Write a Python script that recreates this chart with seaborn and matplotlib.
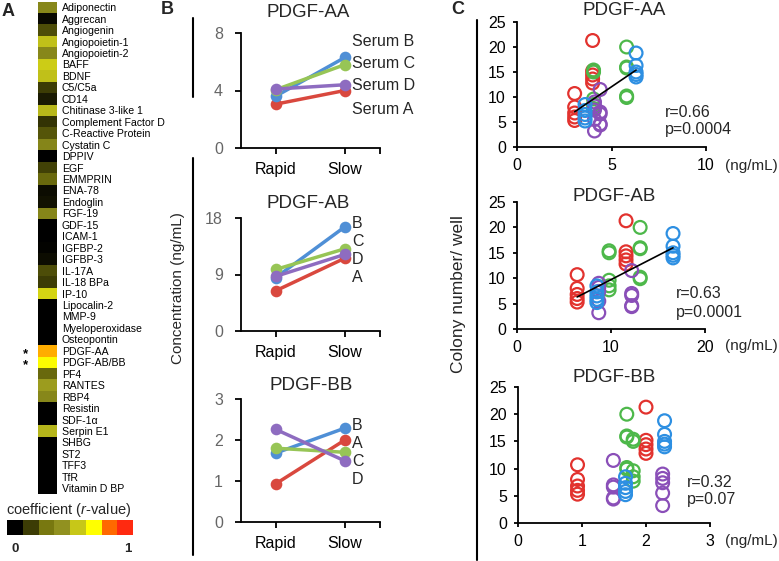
import numpy as np
import pandas as pd
import matplotlib
matplotlib.use("Agg")
import matplotlib.pyplot as plt
import seaborn as sns
from matplotlib.colors import LinearSegmentedColormap
from matplotlib.lines import Line2D

sns.set_theme(style="white")
plt.rcParams["font.family"] = ["Liberation Sans", "DejaVu Sans"]
plt.rcParams["mathtext.fontset"] = "custom"
plt.rcParams["mathtext.rm"] = "Liberation Sans"
plt.rcParams["mathtext.it"] = "Liberation Sans:italic"
plt.rcParams["axes.edgecolor"] = "black"

# ---------------- data ----------------
analytes = ["Adiponectin", "Aggrecan", "Angiogenin", "Angiopoietin-1", "Angiopoietin-2",
            "BAFF", "BDNF", "C5/C5a", "CD14", "Chitinase 3-like 1", "Complement Factor D",
            "C-Reactive Protein", "Cystatin C", "DPPIV", "EGF", "EMMPRIN", "ENA-78",
            "Endoglin", "FGF-19", "GDF-15", "ICAM-1", "IGFBP-2", "IGFBP-3", "IL-17A",
            "IL-18 BPa", "IP-10", "Lipocalin-2", "MMP-9", "Myeloperoxidase", "Osteopontin",
            "PDGF-AA", "PDGF-AB/BB", "PF4", "RANTES", "RBP4", "Resistin", "SDF-1α",
            "Serpin E1", "SHBG", "ST2", "TFF3", "TfR", "Vitamin D BP"]
r_values = [0.38, 0.02, 0.18, 0.55, 0.38, 0.58, 0.55, 0.14, 0.06, 0.53, 0.12,
            0.20, 0.37, 0.00, 0.15, 0.25, 0.03, 0.04, 0.37, 0.00, 0.00, 0.01,
            0.03, 0.18, 0.14, 0.60, 0.00, 0.00, 0.00, 0.00, 0.79, 0.70, 0.25,
            0.46, 0.38, 0.00, 0.00, 0.52, 0.00, 0.00, 0.00, 0.00, 0.00]
starred = ["PDGF-AA", "PDGF-AB/BB"]
cbar_levels = [0.0, 0.14, 0.29, 0.43, 0.57, 0.71, 0.86, 1.0]
cbar_colors = ["#000000", "#3d3d05", "#787810", "#909020", "#c8c818", "#ffff00", "#ff6a00", "#ff2a10"]

sera = ["A", "B", "C", "D"]
conditions = ["Rapid", "Slow"]

aa_rapid = [3.05, 3.6, 4.05, 4.1]
aa_slow = [4.0, 6.3, 5.8, 4.4]
ab_rapid = [6.4, 8.5, 9.8, 8.7]
ab_slow = [11.6, 16.6, 13.1, 12.2]
bb_rapid = [0.93, 1.68, 1.8, 2.26]
bb_slow = [2.0, 2.29, 1.7, 1.49]

colony_rapid = {
    "A": [10.7, 8.0, 6.8, 6.0, 5.3],
    "B": [8.5, 7.3, 6.5, 5.8, 5.2],
    "C": [15.4, 15.0, 9.6, 8.5, 7.7],
    "D": [9.0, 8.2, 7.4, 5.5, 3.2],
}
colony_slow = {
    "A": [21.3, 15.2, 14.4, 13.6, 12.8],
    "B": [18.8, 16.3, 15.0, 14.5, 14.0],
    "C": [20.0, 16.0, 15.8, 10.2, 9.9],
    "D": [11.5, 7.0, 6.6, 4.6, 4.4],
}

r_texts = ["r=0.66", "r=0.63", "r=0.32"]
p_texts = ["p=0.0004", "p=0.0001", "p=0.07"]
titles = ["PDGF-AA", "PDGF-AB", "PDGF-BB"]

b_colors = {"A": "#d9483e", "B": "#4f8fd6", "C": "#97c556", "D": "#8e6cc0"}
c_colors = {"A": "#e2322e", "B": "#2d8fe2", "C": "#4db84a", "D": "#8a4fb8"}

# ---------------- figure ----------------
W, H = 779, 561
fig = plt.figure(figsize=(W / 100, H / 100), dpi=100)
fig.patch.set_facecolor("white")


def ax_px(l, t, r, b):
    return fig.add_axes([l / W, 1 - b / H, (r - l) / W, (b - t) / H])


def T(x, y, s, **kw):
    return fig.text(x / W, 1 - y / H, s, **kw)


def vline(x, y0, y1, lw=1.5):
    fig.add_artist(Line2D([x / W, x / W], [1 - y0 / H, 1 - y1 / H], color="black", lw=lw,
                          transform=fig.transFigure))


cmap = LinearSegmentedColormap.from_list("rcoef", list(zip(cbar_levels, cbar_colors)))

# ----- Panel A: heatmap -----
ax_h = ax_px(38, 1.5, 57, 494)
sns.heatmap(np.array(r_values)[:, None], cmap=cmap, vmin=0, vmax=1, cbar=False, ax=ax_h,
            xticklabels=False, yticklabels=analytes)
ax_h.tick_params(axis="y", left=False, right=False, labelleft=False, labelright=True,
                 labelsize=7.6, pad=3.5, length=0)
for lab in ax_h.get_yticklabels():
    lab.set_rotation(0)
    lab.set_color("black")
for name in starred:
    i = analytes.index(name)
    ax_h.text(-0.5, i + 0.75, "*", ha="right", va="center", fontsize=9.5,
              fontweight="bold", color="black")

ax_c = ax_px(7, 520, 133, 535)
sns.heatmap([cbar_levels], cmap=cmap, vmin=0, vmax=1, cbar=False, ax=ax_c,
            xticklabels=False, yticklabels=False)
T(69, 510, "coefficient ($\\mathit{r}$-value)", ha="center", va="center", fontsize=10.5)
T(15, 549, "0", ha="center", va="center", fontsize=9.5, fontweight="bold")
T(128, 549, "1", ha="center", va="center", fontsize=9.5, fontweight="bold")
T(8, 12, "A", ha="center", va="center", fontsize=13, fontweight="bold")

# ----- Panel B: line plots -----
b_boxes = [(241, 33, 379.5, 148), (241, 218, 379.5, 331), (241, 399, 379.5, 522)]
b_data = [(aa_rapid, aa_slow), (ab_rapid, ab_slow), (bb_rapid, bb_slow)]
b_ylims = [(0, 8), (0, 18), (0, 3)]
b_yticks = [[0, 4, 8], [0, 9, 18], [0, 1, 2, 3]]
b_title_pos = [(308, 17), (308, 208), (311, 390)]
b_label_text = [["Serum B", "Serum C", "Serum D", "Serum A"], ["B", "C", "D", "A"], ["B", "A", "C", "D"]]
b_label_y = [[42, 63, 86, 109], [223, 241, 259, 277], [425, 443, 461, 479]]

for k in range(3):
    ax = ax_px(*b_boxes[k])
    rapid, slow = b_data[k]
    df = pd.DataFrame({
        "serum": sera + sera,
        "condition": ["Rapid"] * 4 + ["Slow"] * 4,
        "value": list(rapid) + list(slow),
    })
    sns.pointplot(data=df, x="condition", y="value", hue="serum", order=conditions,
                  hue_order=sera, palette=b_colors, errorbar=None, markers="o",
                  markersize=6.5, linewidth=2.5, legend=False, ax=ax)
    ax.set_xlim(-0.5, 1.5)
    ax.set_ylim(*b_ylims[k])
    ax.set_yticks(b_yticks[k])
    ax.set_xticks([0, 1, 1.5])
    ax.set_xticklabels(["Rapid", "Slow", ""])
    ax.set_xlabel("")
    ax.set_ylabel("")
    for s in ["top", "right"]:
        ax.spines[s].set_visible(False)
    for s in ["left", "bottom"]:
        ax.spines[s].set_linewidth(1.3)
        ax.spines[s].set_color("black")
    ax.tick_params(axis="both", direction="out", length=4, width=1.3, color="black",
                   left=True, bottom=True)
    ax.tick_params(axis="y", labelsize=11.5, labelcolor="#666666", pad=9)
    ax.tick_params(axis="x", labelsize=11.5, labelcolor="black", pad=6)
    ax.set_facecolor("none")
    T(b_title_pos[k][0], b_title_pos[k][1], titles[k], ha="center", va="baseline", fontsize=13.5)
    for txt, yy in zip(b_label_text[k], b_label_y[k]):
        T(352, yy, txt, ha="left", va="center", fontsize=11.5)

T(167, 9, "B", ha="center", va="center", fontsize=13, fontweight="bold")
T(178, 288, "Concentration (ng/mL)", rotation=90, ha="center", va="center", fontsize=11)
vline(192.5, 18, 97)
vline(192.5, 158, 555)

# ----- Panel C: scatter plots -----
c_boxes = [(517, 22, 706, 147), (517, 202, 705, 329), (518, 387, 710, 523)]
c_xlims = [(0, 10), (0, 20), (0, 3)]
c_xticks = [[0, 5, 10], [0, 10, 20], [0, 1, 2, 3]]
c_title_pos = [(624, 15), (614, 201), (614, 382)]
c_r_pos = [(665, 117, 134), (676, 298, 317), (687, 487, 504)]
c_unit_pos = [(725, 170), (725, 350), (725, 545)]
draw_order = ["A", "C", "D", "B"]

for k in range(3):
    ax = ax_px(*c_boxes[k])
    rapid, slow = b_data[k]
    rows = []
    for s in draw_order:
        i = sera.index(s)
        for v in colony_rapid[s]:
            rows.append((s, rapid[i], v))
        for v in colony_slow[s]:
            rows.append((s, slow[i], v))
    df = pd.DataFrame(rows, columns=["serum", "conc", "colony"])
    sns.scatterplot(data=df, x="conc", y="colony", hue="serum", palette=c_colors,
                    s=85, linewidth=1.6, legend=False, ax=ax)
    coll = ax.collections[-1]
    fc = coll.get_facecolors()
    coll.set_edgecolors(fc)
    coll.set_facecolors("none")
    if k < 2:
        sns.regplot(data=df, x="conc", y="colony", scatter=False, ci=None, truncate=True,
                    color="black", line_kws={"linewidth": 1.2}, ax=ax)
    ax.set_xlim(*c_xlims[k])
    ax.set_ylim(0, 25)
    ax.set_xticks(c_xticks[k])
    ax.set_yticks([0, 5, 10, 15, 20, 25])
    ax.set_xlabel("")
    ax.set_ylabel("")
    for s in ["top", "right"]:
        ax.spines[s].set_visible(False)
    for s in ["left", "bottom"]:
        ax.spines[s].set_linewidth(1.3)
        ax.spines[s].set_color("black")
    ax.tick_params(axis="both", direction="out", length=3, width=1.3, color="black",
                   left=True, bottom=True, labelsize=11.5, labelcolor="black", pad=5)
    ax.set_facecolor("none")
    T(c_title_pos[k][0], c_title_pos[k][1], titles[k], ha="center", va="baseline", fontsize=13.5)
    x0, yr, yp = c_r_pos[k]
    T(x0, yr, r_texts[k], ha="left", va="baseline", fontsize=11.5)
    T(x0, yp, p_texts[k], ha="left", va="baseline", fontsize=11.5)
    T(c_unit_pos[k][0], c_unit_pos[k][1], "(ng/mL)", ha="left", va="baseline", fontsize=11)

T(458, 9, "C", ha="center", va="center", fontsize=13, fontweight="bold")
T(459, 294, "Colony number/ well", rotation=90, ha="center", va="center", fontsize=12.5)
vline(477, 20, 560)

fig.savefig("out.png", dpi=100, facecolor="white")
